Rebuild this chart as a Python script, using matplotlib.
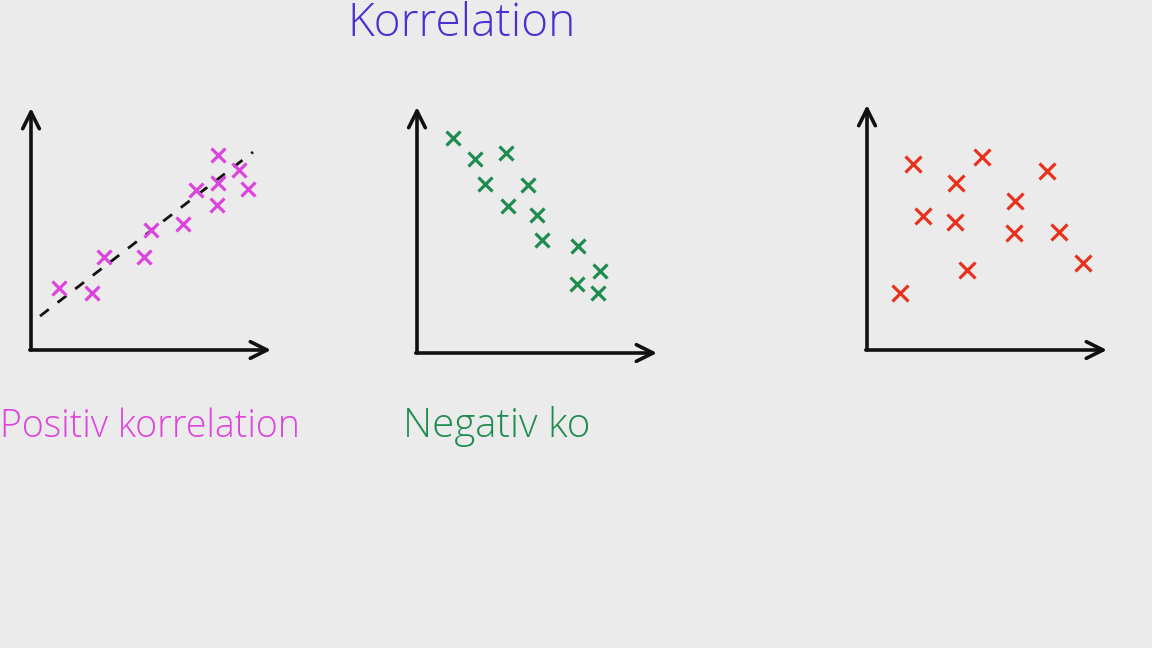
import matplotlib
matplotlib.use('Agg')
import matplotlib.pyplot as plt

# Positiv korrelation
pos_x = [1.17, 2.54, 3.04, 4.71, 5.0, 6.33, 6.88, 7.79, 7.79, 7.75, 8.67, 9.04]
pos_y = [2.56, 2.36, 3.84, 3.84, 4.96, 5.21, 6.61, 8.06, 6.90, 5.99, 7.44, 6.65]
trend_x = [0.375, 9.25]
trend_y = [1.40, 8.18]

# Negativ korrelation
neg_x = [1.5, 2.42, 3.71, 2.83, 4.63, 3.79, 5.0, 5.21, 6.71, 7.63, 6.67, 7.54]
neg_y = [8.74, 7.89, 8.13, 6.87, 6.83, 5.98, 5.61, 4.59, 4.35, 3.33, 2.80, 2.44]

# ingen korrelation
non_x = [1.92, 4.79, 3.71, 7.5, 6.17, 2.33, 3.67, 6.13, 8.0, 4.17, 9.0, 1.38]
non_y = [7.59, 7.88, 6.82, 7.31, 6.08, 5.47, 5.22, 4.78, 4.82, 3.27, 3.55, 2.33]

bg = '#ebebeb'
W, H = 1152, 648

fig = plt.figure(figsize=(W / 100, H / 100), dpi=100, facecolor=bg)


def panel(left, top, right, bottom):
    # pixel box -> figure fraction
    ax = fig.add_axes([left / W, 1 - bottom / H, (right - left) / W, (bottom - top) / H])
    ax.set_xlim(0, 10)
    ax.set_ylim(0, 10)
    ax.axis('off')
    ax.patch.set_alpha(0)
    arrow = dict(arrowstyle='->', lw=2.6, color='#111111', mutation_scale=30,
                 shrinkA=0, shrinkB=0)
    ax.annotate('', xy=(0, 10), xytext=(0, 0), arrowprops=arrow, annotation_clip=False)
    ax.annotate('', xy=(10, 0), xytext=(-0.05, 0), arrowprops=arrow, annotation_clip=False)
    return ax


ax1 = panel(31, 108, 271, 350)
ax1.plot(trend_x, trend_y, color='#111111', lw=2, linestyle=(0, (4, 4)))
ax1.plot(pos_x, pos_y, 'x', color='#dd44dd', ms=10, mew=2.3, clip_on=False)

ax2 = panel(417, 107, 657, 353)
ax2.plot(neg_x, neg_y, 'x', color='#1e8c4e', ms=10, mew=2.3, clip_on=False)

ax3 = panel(867, 105, 1107, 350)
ax3.plot(non_x, non_y, 'x', color='#e8321e', ms=11, mew=2.3, clip_on=False)

fig.text(462 / W, 1 - 1 / H, 'Korrelation', color='#4b2fd0', fontsize=33,
         family='Open Sans', fontweight='light', ha='center', va='top')
fig.text(0 / W, 1 - 437 / H, 'Positiv korrelation', color='#dd44dd', fontsize=27,
         family='Open Sans', fontweight='light', ha='left', va='baseline')
fig.text(403 / W, 1 - 437 / H, 'Negativ ko', color='#1e8c4e', fontsize=29,
         family='Open Sans', fontweight='light', ha='left', va='baseline')

fig.savefig('out.png', dpi=100, facecolor=bg)
